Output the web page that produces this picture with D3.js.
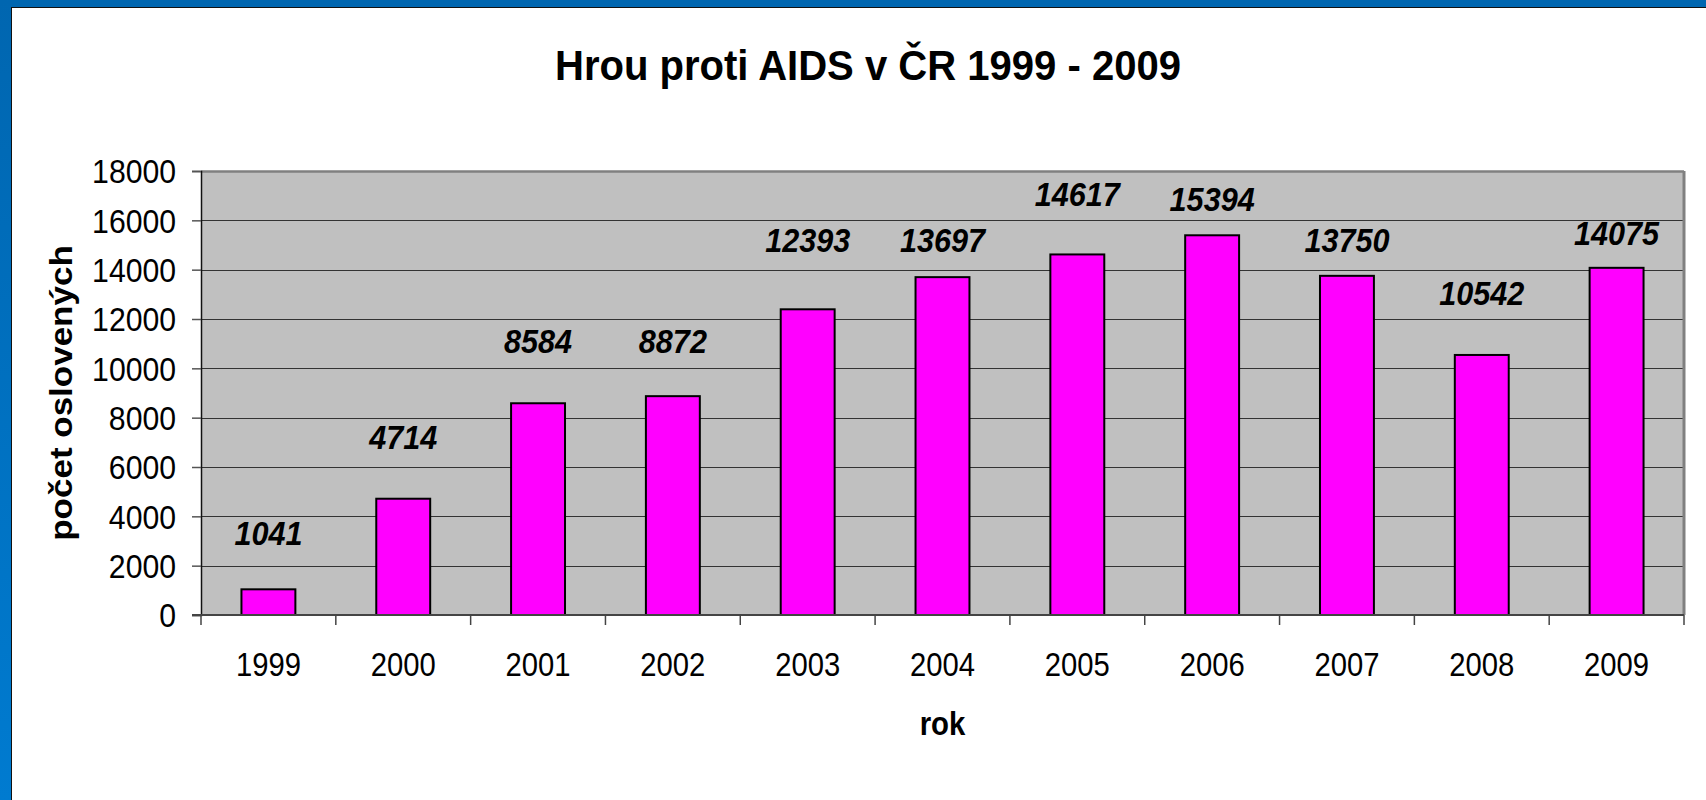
<!DOCTYPE html>
<html>
<head>
<meta charset="utf-8">
<script src="https://cdn.jsdelivr.net/npm/d3@7"></script>
<style>
  body { margin: 0; background: #fff; }
  svg { display: block; font-family: "Liberation Sans", Arial, sans-serif; }
</style>
</head>
<body>
<script>
let years = ['1999', '2000', '2001', '2002', '2003', '2004', '2005', '2006', '2007', '2008', '2009']
let counts = [1041, 4714, 8584, 8872, 12393, 13697, 14617, 15394, 13750, 10542, 14075]
let yTicks = [0, 2000, 4000, 6000, 8000, 10000, 12000, 14000, 16000, 18000]
let title = 'Hrou proti AIDS v ČR 1999 - 2009'
let xTitle = 'rok'
let yTitle = 'počet oslovených'

// labels were nudged by hand in the original, px above the bar top
let labelGap = [44, 50, 50, 43, 57, 25, 48, 24, 24, 50, 23]

let width = 1706
let height = 800
let plotLeft = 201, plotRight = 1684, plotTop = 171, plotBottom = 615
let squeeze = 0.9   // the original text is a bit narrow

let svg = d3.select('body').append('svg')
    .attr('width', width)
    .attr('height', height)

// blue slide frame
let grad = svg.append('defs').append('linearGradient')
    .attr('id', 'side')
    .attr('x1', 0).attr('y1', 0).attr('x2', 0).attr('y2', 1)
grad.append('stop').attr('offset', '0%').attr('stop-color', '#0066b0')
grad.append('stop').attr('offset', '100%').attr('stop-color', '#007bd0')

svg.append('rect').attr('x', 0).attr('y', 0).attr('width', width).attr('height', 7).attr('fill', '#0066b0')
svg.append('rect').attr('x', 0).attr('y', 0).attr('width', 11).attr('height', height).attr('fill', 'url(#side)')
svg.append('line').attr('x1', 11).attr('x2', width).attr('y1', 7.5).attr('y2', 7.5).attr('stroke', '#111').attr('stroke-width', 1)
svg.append('line').attr('x1', 11.5).attr('x2', 11.5).attr('y1', 7).attr('y2', height).attr('stroke', '#111').attr('stroke-width', 1)

let x = d3.scaleBand()
    .domain(years)
    .range([plotLeft, plotRight])
    .paddingInner(0.6)
    .paddingOuter(0.3)

let y = d3.scaleLinear()
    .domain([0, 18000])
    .range([plotBottom, plotTop])

// plot area
svg.append('rect')
    .attr('x', plotLeft).attr('y', plotTop)
    .attr('width', plotRight - plotLeft).attr('height', plotBottom - plotTop)
    .attr('fill', '#c0c0c0')

svg.append('g')
    .selectAll('line')
    .data(yTicks.slice(1))
    .join('line')
    .attr('x1', plotLeft).attr('x2', plotRight)
    .attr('y1', d => Math.round(y(d)) + 0.5)
    .attr('y2', d => Math.round(y(d)) + 0.5)
    .attr('stroke', d => d == 18000 ? '#808080' : '#333')
    .attr('stroke-width', d => d == 18000 ? 2.5 : 1.2)

svg.append('line')
    .attr('x1', plotRight).attr('x2', plotRight)
    .attr('y1', plotTop).attr('y2', plotBottom)
    .attr('stroke', '#808080').attr('stroke-width', 3)

// bars
svg.append('g')
    .selectAll('rect')
    .data(counts)
    .join('rect')
    .attr('x', (d, i) => x(years[i]))
    .attr('y', d => y(d))
    .attr('width', x.bandwidth())
    .attr('height', d => y(0) - y(d))
    .attr('fill', '#ff00ff')
    .attr('stroke', '#000')
    .attr('stroke-width', 2)

// axes
let yAxis = svg.append('g')
    .attr('transform', `translate(${plotLeft},0)`)
    .call(d3.axisLeft(y).tickValues(yTicks).tickFormat(d3.format('d')).tickSize(9).tickPadding(16))
yAxis.select('.domain').attr('stroke', '#111').attr('stroke-width', 1.5)
yAxis.selectAll('.tick line').attr('stroke', '#555').attr('stroke-width', 1.5)
yAxis.selectAll('.tick text')
    .attr('font-size', 33)
    .attr('font-family', '"Liberation Sans", Arial, sans-serif')
    .attr('fill', '#000')
    .attr('x', -25 / 0.915)
    .attr('dy', '0.36em')
    .attr('transform', 'scale(0.915,1)')

svg.append('line')
    .attr('x1', plotLeft - 9).attr('x2', plotRight)
    .attr('y1', plotBottom).attr('y2', plotBottom)
    .attr('stroke', '#444').attr('stroke-width', 2)

let step = x.step()
let gap = step - x.bandwidth()
let bounds = years.map(d => x(d) - gap / 2).concat([plotRight])
svg.append('g')
    .selectAll('line')
    .data(bounds)
    .join('line')
    .attr('x1', d => d).attr('x2', d => d)
    .attr('y1', plotBottom).attr('y2', plotBottom + 10)
    .attr('stroke', '#444').attr('stroke-width', 1.5)

svg.append('g')
    .selectAll('text')
    .data(years)
    .join('text')
    .attr('transform', d => `translate(${x(d) + x.bandwidth() / 2},676) scale(0.86,1)`)
    .attr('text-anchor', 'middle')
    .attr('font-size', 34)
    .text(d => d)

// value labels
svg.append('g')
    .selectAll('text')
    .data(counts)
    .join('text')
    .attr('transform', (d, i) => `translate(${x(years[i]) + x.bandwidth() / 2},${y(d) - labelGap[i]}) scale(${squeeze},1)`)
    .attr('text-anchor', 'middle')
    .attr('font-size', 34)
    .attr('font-weight', 'bold')
    .attr('font-style', 'italic')
    .text(d => d)

// titles
svg.append('text')
    .attr('x', 868).attr('y', 80)
    .attr('text-anchor', 'middle')
    .attr('font-size', 43)
    .attr('font-weight', 'bold')
    .attr('textLength', 626)
    .attr('lengthAdjust', 'spacingAndGlyphs')
    .text(title)

svg.append('text')
    .attr('transform', `translate(${(plotLeft + plotRight) / 2},735) scale(0.89,1)`)
    .attr('text-anchor', 'middle')
    .attr('font-size', 33)
    .attr('font-weight', 'bold')
    .text(xTitle)

svg.append('text')
    .attr('transform', `translate(72,${(plotTop + plotBottom) / 2}) scale(${squeeze},1) rotate(-90)`)
    .attr('text-anchor', 'middle')
    .attr('font-size', 35)
    .attr('font-weight', 'bold')
    .text(yTitle)
</script>
</body>
</html>
